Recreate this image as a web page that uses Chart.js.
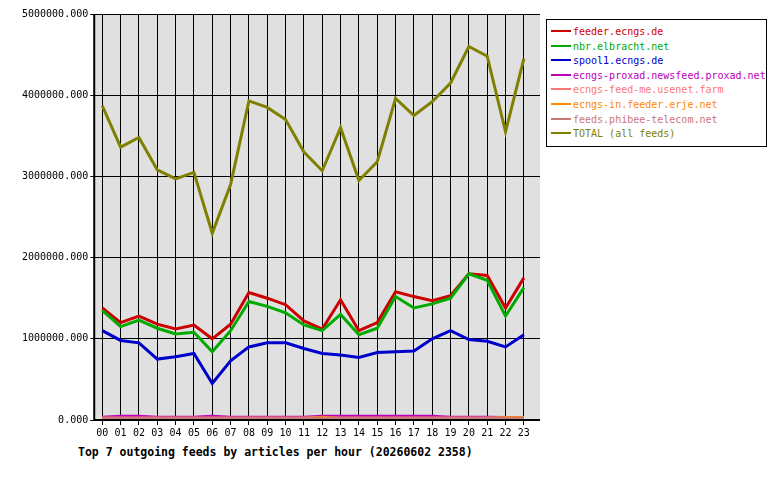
<!DOCTYPE html>
<html><head><meta charset="utf-8">
<script src="https://cdn.jsdelivr.net/npm/chart.js@4"></script>
<style>
body{margin:0;background:#fff;font-family:"DejaVu Sans Mono",monospace;}
#wrap{position:absolute;left:0;top:0;width:545px;height:445px;}
#legend{position:absolute;left:546px;top:19px;width:221px;border:1px solid #000;padding:5px 0 4px 4px;font-size:10px;line-height:14.6px;box-sizing:border-box;}
#legend div{white-space:nowrap;}
#legend span.l{display:inline-block;width:20px;height:2px;vertical-align:middle;margin-right:2px;position:relative;top:-1px}
#title{position:absolute;left:78px;top:445px;font-size:11.5px;font-weight:bold;}
</style></head><body>
<div id="wrap"><canvas id="c"></canvas></div>
<div id="legend"></div>
<div id="title">Top 7 outgoing feeds by articles per hour (20260602 2358)</div>
<script>
const hours=["00","01","02","03","04","05","06","07","08","09","10","11","12","13","14","15","16","17","18","19","20","21","22","23"];
const feeder=[1380000,1200000,1280000,1180000,1120000,1170000,1000000,1180000,1570000,1500000,1420000,1220000,1120000,1480000,1100000,1200000,1580000,1520000,1470000,1530000,1800000,1780000,1380000,1750000];
const nbr=[1350000,1150000,1230000,1130000,1060000,1080000,840000,1100000,1460000,1400000,1320000,1170000,1100000,1300000,1050000,1130000,1520000,1380000,1430000,1500000,1800000,1720000,1280000,1630000];
const spool1=[1100000,980000,950000,750000,780000,820000,450000,730000,900000,950000,950000,880000,820000,800000,770000,830000,840000,850000,1000000,1100000,990000,970000,900000,1050000];
const proxad=[35000,45000,45000,35000,35000,35000,45000,35000,35000,35000,35000,35000,45000,45000,45000,45000,45000,45000,45000,35000,35000,35000,30000,30000];
const feedme=[25000,25000,25000,25000,25000,25000,25000,25000,25000,25000,25000,25000,25000,25000,25000,25000,25000,25000,25000,25000,25000,25000,25000,25000];
const erje=[20000,20000,20000,20000,20000,20000,20000,20000,20000,20000,20000,20000,35000,20000,20000,20000,20000,20000,20000,20000,20000,20000,30000,30000];
const phibee=[22000,22000,22000,22000,22000,22000,22000,22000,22000,22000,22000,22000,22000,22000,22000,22000,22000,22000,22000,22000,22000,22000,22000,22000];
const total=[3870000,3360000,3480000,3080000,2970000,3050000,2300000,2900000,3930000,3850000,3700000,3300000,3070000,3600000,2950000,3180000,3960000,3750000,3920000,4150000,4600000,4480000,3550000,4450000];
const yTicks=[0,1000000,2000000,3000000,4000000,5000000];
const series=[
["feeder.ecngs.de",feeder,"#cc0000"],
["nbr.elbracht.net",nbr,"#00aa00"],
["spool1.ecngs.de",spool1,"#0000cc"],
["ecngs-proxad.newsfeed.proxad.net",proxad,"#bb00bb"],
["ecngs-feed-me.usenet.farm",feedme,"#ff7777"],
["ecngs-in.feeder.erje.net",erje,"#ff8800"],
["feeds.phibee-telecom.net",phibee,"#cc7777"],
["TOTAL (all feeds)",total,"#808000"]];
const lg=document.getElementById('legend');
series.forEach(s=>{lg.innerHTML+=`<div style="color:${s[2]}"><span class="l" style="background:${s[2]}"></span>${s[0]}</div>`;});
const bg={id:'bg',beforeDraw(c){const a=c.chartArea,x=c.ctx;x.save();x.fillStyle='#e0e0e0';x.fillRect(a.left,a.top,a.right-a.left,a.bottom-a.top);x.restore();},
afterDraw(c){const a=c.chartArea,x=c.ctx;x.save();x.strokeStyle='#000';x.lineWidth=2;x.beginPath();x.moveTo(a.left,a.top);x.lineTo(a.left,a.bottom);x.lineTo(a.right,a.bottom);x.stroke();x.restore();}};
Chart.defaults.font.family='"DejaVu Sans Mono",monospace';
Chart.defaults.font.size=10;
Chart.defaults.color='#000';
new Chart(document.getElementById('c'),{type:'line',
data:{datasets:series.slice().reverse().map(s=>({label:s[0],data:s[1].map((v,i)=>({x:i,y:v})),borderColor:s[2],borderWidth:3,pointRadius:0,tension:0}))},
options:{responsive:true,maintainAspectRatio:false,animation:false,
layout:{padding:{top:14,right:5,bottom:4,left:20}},
plugins:{legend:{display:false},tooltip:{enabled:false}},
scales:{x:{type:'linear',min:-0.44,max:23.88,afterBuildTicks(a){a.ticks=hours.map((h,i)=>({value:i}));},
grid:{color:'#000',lineWidth:1,tickLength:5,tickColor:'#000'},border:{display:false},
ticks:{maxRotation:0,autoSkip:false,padding:2,callback:(v)=>hours[v]}},
y:{min:0,max:5000000,afterBuildTicks(a){a.ticks=yTicks.map(v=>({value:v}));},grid:{color:'#000',lineWidth:1,tickLength:4,tickColor:'#000'},border:{display:false},
ticks:{callback:v=>v.toFixed(3),padding:2}}}},
plugins:[bg]});
</script></body></html>
